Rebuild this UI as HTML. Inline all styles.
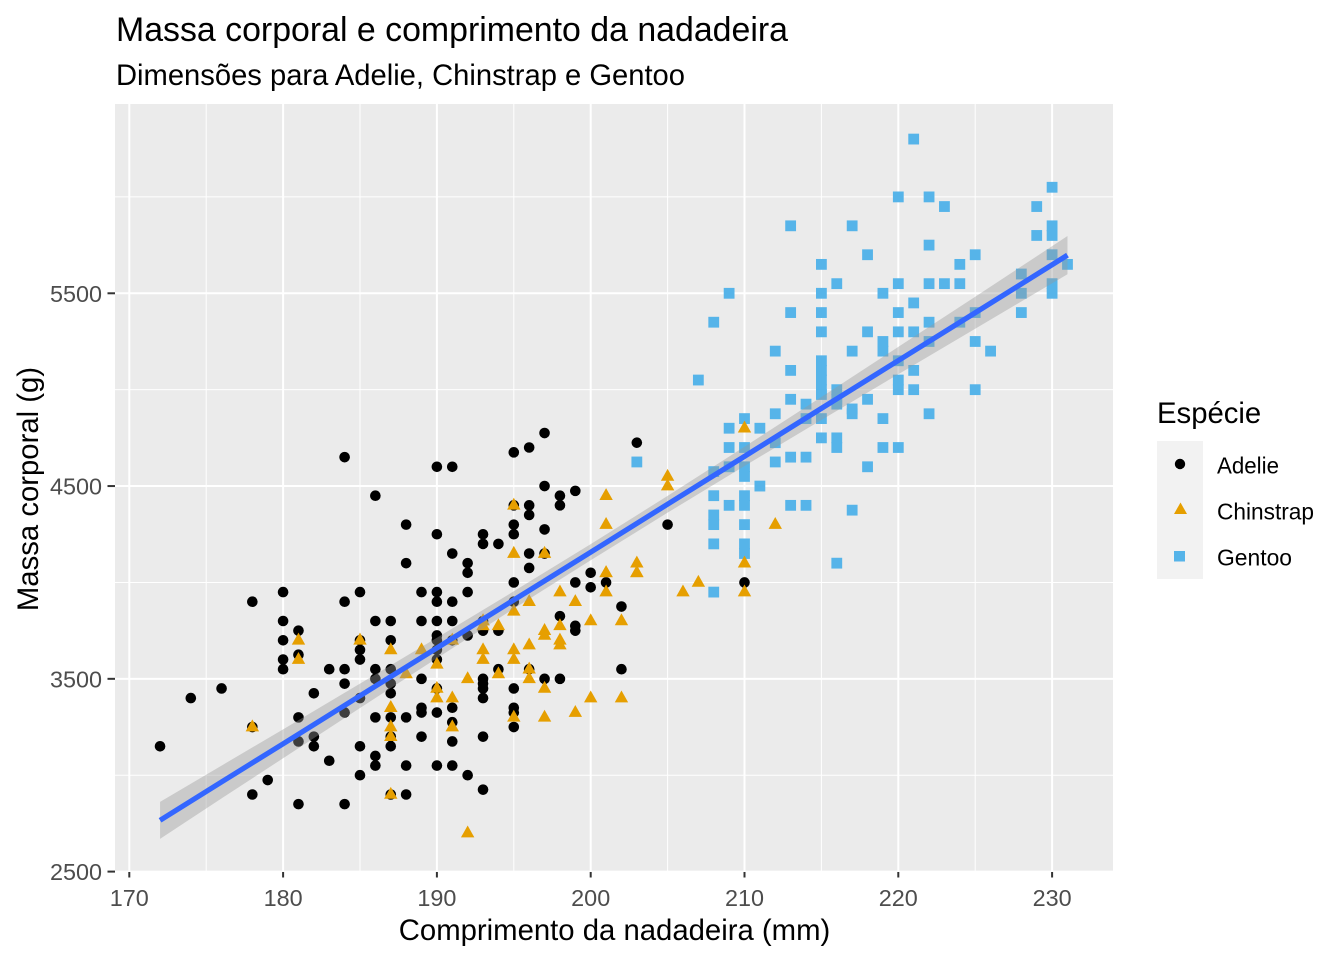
<!DOCTYPE html>
<html lang="pt">
<head>
<meta charset="utf-8">
<title>Massa corporal e comprimento da nadadeira</title>
<style>
html,body{margin:0;padding:0;background:#fff;}
svg{display:block;font-family:"Liberation Sans",Arial,sans-serif;}
</style>
</head>
<body>
<svg id="chart" xmlns="http://www.w3.org/2000/svg" width="1344" height="960" viewBox="0 0 1344 960">
  <rect x="0" y="0" width="1344" height="960" fill="#ffffff"/>
  <text x="116" y="41" font-size="33.9" textLength="672" lengthAdjust="spacingAndGlyphs" fill="#000">Massa corporal e comprimento da nadadeira</text>
  <text x="116" y="85" font-size="29.2" textLength="569" lengthAdjust="spacingAndGlyphs" fill="#000">Dimensões para Adelie, Chinstrap e Gentoo</text>
  <rect x="115" y="104" width="998" height="768" fill="#EBEBEB"/>
  <g id="grid"></g>
  <g id="marks"></g>
  <g id="smooth"></g>
  <g id="axes"></g>
  <text x="614.5" y="940" font-size="29.3" text-anchor="middle" fill="#000">Comprimento da nadadeira (mm)</text>
  <text transform="translate(38,489) rotate(-90)" font-size="29.3" text-anchor="middle" fill="#000">Massa corporal (g)</text>

  <g>
    <text x="1157" y="423" font-size="29.3" fill="#000">Espécie</text>
    <rect x="1157" y="441" width="46" height="138" fill="#F2F2F2"/>
    <circle cx="1180" cy="464" r="5.2" fill="#000000"/>
    <polygon points="1180.5,502.5 1187,514 1174,514" fill="#E69F00"/>
    <rect x="1174" y="551" width="11" height="10.5" fill="#56B4E9"/>
    <text x="1217" y="473.5" font-size="23" textLength="62" lengthAdjust="spacingAndGlyphs" fill="#000">Adelie</text>
    <text x="1217" y="519.5" font-size="23" textLength="97" lengthAdjust="spacingAndGlyphs" fill="#000">Chinstrap</text>
    <text x="1217" y="565.5" font-size="23" textLength="75" lengthAdjust="spacingAndGlyphs" fill="#000">Gentoo</text>
  </g>
</svg>
<script>
const xTicks = [170, 180, 190, 200, 210, 220, 230];
const xMinorTicks = [175, 185, 195, 205, 215, 225];
const yTicks = [2500, 3500, 4500, 5500];
const yMinorTicks = [3000, 4000, 5000, 6000];

const adelieFlipper = [172,174,176,178,178,178,179,
180,180,180,180,180,181,181,181,181,181,182,182,182,183,183,
184,184,184,184,184,184,185,185,185,185,185,185,185,
186,186,186,186,186,186,186,187,187,187,187,187,187,187,187,187,
188,188,188,188,188,189,189,189,189,189,189,
190,190,190,190,190,190,190,190,190,190,190,190,
191,191,191,191,191,191,191,191,191,192,192,192,192,192,
193,193,193,193,193,193,193,193,193,193,194,194,194,
195,195,195,195,195,195,195,195,195,195,196,196,196,196,196,196,
197,197,197,197,197,198,198,198,198,199,199,199,199,200,200,201,202,202,203,205,210];
const adelieMass = [3150,3400,3450,2900,3250,3900,2975,
3550,3600,3700,3800,3950,2850,3175,3300,3625,3750,3150,3200,3425,3075,3550,
2850,3325,3475,3550,3900,4650,3000,3150,3400,3600,3650,3700,3950,
3050,3100,3300,3500,3550,3800,4450,2900,3150,3200,3300,3425,3475,3550,3700,3800,
2900,3050,3300,4100,4300,3200,3325,3350,3500,3800,3950,
3050,3325,3450,3600,3650,3700,3725,3800,3900,3950,4250,4600,
3050,3175,3275,3350,3700,3800,3900,4150,4600,3000,3725,3950,4050,4100,
2925,3200,3400,3450,3475,3500,3750,3800,4200,4250,3550,3750,4200,
3250,3325,3350,3450,3900,4000,4250,4300,4400,4675,3550,4075,4150,4350,4400,4700,
3500,4150,4275,4500,4775,3500,3825,4400,4450,3750,3775,4000,4475,3975,4050,4000,3550,3875,4725,4300,4000];

const gentooFlipper = [203,207,208,208,208,208,208,208,208,209,209,209,209,209,
210,210,210,210,210,210,210,210,210,211,211,212,212,212,212,
213,213,213,213,213,213,214,214,214,214,
215,215,215,215,215,215,215,215,215,215,215,216,216,216,216,216,216,216,
217,217,217,217,217,218,218,218,218,219,219,219,219,219,
220,220,220,220,220,220,220,220,221,221,221,221,221,
222,222,222,222,222,222,223,223,224,224,224,225,225,225,225,226,
228,228,228,229,229,230,230,230,230,230,230,231];
const gentooMass = [4625,5050,3950,4200,4300,4350,4450,4575,5350,4400,4600,4700,4800,5500,
4150,4200,4300,4400,4450,4550,4600,4700,4850,4500,4800,4625,4725,4875,5200,
4400,4650,4950,5100,5400,5850,4400,4650,4850,4925,
4750,4850,4975,5000,5050,5100,5150,5300,5400,5500,5650,4100,4700,4750,4925,4950,5000,5550,
4375,4875,4900,5200,5850,4600,4950,5300,5700,4700,4850,5200,5250,5500,
4700,5000,5050,5150,5300,5400,5550,6000,5000,5100,5300,5450,6300,
4875,5250,5350,5550,5750,6000,5550,5950,5350,5550,5650,5000,5250,5400,5700,5200,
5400,5500,5600,5800,5950,5500,5550,5700,5800,5850,6050,5650];

const chinstrapFlipper = [192,196,193,188,197,198,178,197,195,198,193,194,185,201,190,201,197,181,190,195,181,191,187,193,195,197,200,200,191,205,187,201,187,203,195,199,195,210,192,205,210,187,196,196,196,201,190,212,187,198,199,201,193,203,187,197,191,203,202,194,206,189,195,207,202,193,210,198];
const chinstrapMass = [3500,3900,3650,3525,3725,3950,3250,3750,4150,3700,3800,3775,3700,4050,3575,4050,3300,3700,3450,4400,3600,3400,2900,3800,3300,4150,3400,3800,3700,4550,3200,4300,3350,4100,3600,3900,3850,4800,2700,4500,3950,3650,3550,3500,3675,4450,3400,4300,3250,3675,3325,3950,3600,4050,3350,3450,3250,4050,3800,3525,3950,3650,3650,4000,3400,3775,4100,3775];

const smoothFlipper = [172,176,180,185,190,195,200,205,210,215,220,225,231];
const smoothMass = [2766,2965,3163,3412,3660,3909,4157,4406,4654,4903,5151,5399,5698];
const smoothLower = [2670,2880,3088,3349,3607,3864,4115,4362,4604,4843,5080,5316,5599];
const smoothUpper = [2862,3050,3238,3475,3713,3954,4199,4449,4704,4962,5222,5482,5797];

const NS = 'http://www.w3.org/2000/svg';
const xScale = v => 129.3 + (v - 170) * 15.38;
const yScale = v => 871.6 - (v - 2500) * 0.19277;
const gridG = document.getElementById('grid');
const marksG = document.getElementById('marks');
const smoothG = document.getElementById('smooth');
const axesG = document.getElementById('axes');

function make(tag, parent, attrs) {
  const el = document.createElementNS(NS, tag);
  for (const k in attrs) el.setAttribute(k, attrs[k]);
  parent.appendChild(el);
  return el;
}

xMinorTicks.forEach(t => {
  const el = make('line', gridG, {x1: xScale(t), x2: xScale(t), y1: 104, y2: 872, stroke: '#fff', 'stroke-width': 1});
  
  
});
yMinorTicks.forEach(t => {
  const el = make('line', gridG, {x1: 115, x2: 1113, y1: yScale(t), y2: yScale(t), stroke: '#fff', 'stroke-width': 1});
  
  
});
xTicks.forEach(t => {
  const el = make('line', gridG, {x1: xScale(t), x2: xScale(t), y1: 104, y2: 872, stroke: '#fff', 'stroke-width': 2});
  
  
});
yTicks.forEach(t => {
  const el = make('line', gridG, {x1: 115, x2: 1113, y1: yScale(t), y2: yScale(t), stroke: '#fff', 'stroke-width': 2});
  
  
});

adelieFlipper.forEach((f, i) => {
  const el = make('circle', marksG, {cx: xScale(f), cy: yScale(adelieMass[i]), r: 5.3, fill: '#000000'});
  
  
});
gentooFlipper.forEach((f, i) => {
  const el = make('rect', marksG, {x: xScale(f) - 5.4, y: yScale(gentooMass[i]) - 5.4, width: 10.8, height: 10.8, fill: '#56B4E9'});
  
  
});
chinstrapFlipper.forEach((f, i) => {
  const cx = xScale(f);
  const cy = yScale(chinstrapMass[i]);
  const el = make('polygon', marksG, {points: `${cx},${cy - 7.6} ${cx + 6.7},${cy + 4.3} ${cx - 6.7},${cy + 4.3}`, fill: '#E69F00'});
  
  
});

const upperPts = smoothFlipper.map((f, i) => `${xScale(f)},${yScale(smoothUpper[i])}`);
const lowerPts = smoothFlipper.map((f, i) => `${xScale(f)},${yScale(smoothLower[i])}`).reverse();
const ribbon = make('polygon', smoothG, {points: upperPts.concat(lowerPts).join(' '), fill: '#999999', 'fill-opacity': 0.4});


const trend = make('polyline', smoothG, {points: smoothFlipper.map((f, i) => `${xScale(f)},${yScale(smoothMass[i])}`).join(' '), fill: 'none', stroke: '#3366FF', 'stroke-width': 5.2});



xTicks.forEach(t => {
  const tick = make('line', axesG, {x1: xScale(t), x2: xScale(t), y1: 872, y2: 877.5, stroke: '#333333', 'stroke-width': 2});
  
  
  const label = make('text', axesG, {x: xScale(t), y: 906, 'font-size': 23.4, 'text-anchor': 'middle', fill: '#4D4D4D'});
  label.textContent = String(t);
  
  
});
yTicks.forEach(t => {
  const tick = make('line', axesG, {x1: 107.5, x2: 115, y1: yScale(t), y2: yScale(t), stroke: '#333333', 'stroke-width': 2});
  
  
  const label = make('text', axesG, {x: 102, y: yScale(t) + 8.5, 'font-size': 23.4, 'text-anchor': 'end', fill: '#4D4D4D'});
  label.textContent = String(t);
  
  
});
</script>
</body>
</html>
